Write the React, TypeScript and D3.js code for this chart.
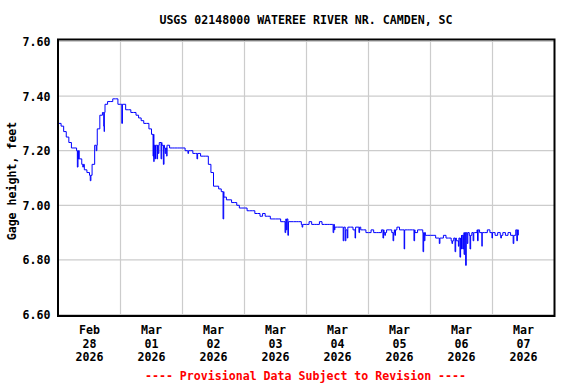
import { useEffect, useRef } from "react";
import * as d3 from "d3";

// hourly gage height readings starting Feb 28 2026 00:00
const gageHourly = [
  7.30, 7.29, 7.27, 7.25, 7.23, 7.21, 7.21, 7.20, 7.17, 7.15,
  7.13, 7.12, 7.11, 7.15, 7.22, 7.28, 7.33, 7.34, 7.37, 7.38,
  7.38, 7.39, 7.39, 7.37, 7.37, 7.37, 7.35, 7.35, 7.34, 7.34,
  7.33, 7.32, 7.31, 7.30, 7.30, 7.28, 7.26, 7.22, 7.22, 7.23,
  7.22, 7.21, 7.22, 7.21, 7.21, 7.21, 7.21, 7.21, 7.21, 7.20,
  7.20, 7.20, 7.19, 7.19, 7.19, 7.18, 7.18, 7.18, 7.15, 7.12,
  7.07, 7.07, 7.06, 7.05, 7.03, 7.02, 7.02, 7.01, 7.01, 7.00,
  6.99, 6.99, 6.99, 6.98, 6.98, 6.98, 6.97, 6.97, 6.96, 6.97,
  6.96, 6.96, 6.95, 6.95, 6.95, 6.95, 6.94, 6.94, 6.95, 6.94,
  6.94, 6.94, 6.94, 6.94, 6.93, 6.93, 6.93, 6.94, 6.93, 6.93,
  6.93, 6.94, 6.93, 6.93, 6.93, 6.93, 6.93, 6.92, 6.92, 6.92,
  6.92, 6.91, 6.92, 6.92, 6.91, 6.92, 6.92, 6.91, 6.91, 6.90,
  6.90, 6.91, 6.90, 6.90, 6.90, 6.91, 6.90, 6.91, 6.91, 6.90,
  6.91, 6.92, 6.91, 6.91, 6.91, 6.91, 6.91, 6.91, 6.90, 6.91,
  6.91, 6.90, 6.89, 6.89, 6.89, 6.89, 6.88, 6.88, 6.88, 6.89,
  6.88, 6.88, 6.87, 6.88, 6.87, 6.88, 6.89, 6.90, 6.90, 6.89,
  6.90, 6.90, 6.91, 6.90, 6.90, 6.90, 6.91, 6.90, 6.90, 6.89,
  6.90, 6.89, 6.90, 6.89, 6.90, 6.89, 6.89, 6.91, 6.89,
];

// short dips between hourly readings: [hours since start, value]
const spikes = [
  [7.3, 7.14], [7.6, 7.17], [9.4, 7.14], [12.3, 7.09], [14.6, 7.2],
  [17.5, 7.29], [17.7, 7.27], [24.5, 7.3], [36.6, 7.18], [36.9, 7.16],
  [37.3, 7.17], [38.1, 7.17], [38.6, 7.19], [39.7, 7.17], [40.6, 7.15],
  [41.3, 7.19], [41.9, 7.18], [50.1, 7.19], [53.6, 7.17], [63.7, 6.95],
  [87.7, 6.9], [88.2, 6.91], [88.8, 6.89], [94.3, 6.92], [106.3, 6.9],
  [106.8, 6.91], [110.2, 6.87], [111.0, 6.87], [111.8, 6.88], [114.8, 6.88],
  [116.3, 6.9], [125.6, 6.88], [126.3, 6.89], [129.5, 6.87], [130.2, 6.89],
  [133.8, 6.84], [137.6, 6.87], [141.1, 6.83], [141.6, 6.87], [147.4, 6.86],
  [152.3, 6.86], [153.5, 6.83], [154.8, 6.85], [155.4, 6.81], [156.0, 6.84],
  [156.6, 6.84], [157.0, 6.82], [157.6, 6.78], [158.2, 6.86], [159.3, 6.84],
  [160.5, 6.87], [162.2, 6.87], [163.9, 6.85], [167.8, 6.88], [171.2, 6.88],
  [176.0, 6.86], [177.4, 6.87],
];

const yTicks = [6.6, 6.8, 7.0, 7.2, 7.4, 7.6];
const tickMonths = ["Feb", "Mar", "Mar", "Mar", "Mar", "Mar", "Mar", "Mar"];
const tickDays = ["28", "01", "02", "03", "04", "05", "06", "07"];
const tickYears = ["2026", "2026", "2026", "2026", "2026", "2026", "2026", "2026"];

const title = "USGS 02148000 WATEREE RIVER NR. CAMDEN, SC";
const yLabel = "Gage height, feet";
const footer = "---- Provisional Data Subject to Revision ----";

const FONT = "'DejaVu Sans Mono', 'Liberation Mono', monospace";

function drawChart(element) {
  d3.select(element).selectAll("*").remove();

  const width = 576;
  const height = 384;
  const left = 58.5;
  const right = 554.5;
  const top = 41.5;
  const bottom = 314.5;

  const start = new Date(2026, 1, 28).getTime();
  const hourMs = 3600 * 1000;
  const t = (h) => new Date(start + h * hourMs);

  const x = d3
    .scaleTime()
    .domain([t(0), t(24 * 8)])
    .range([left, right]);
  const y = d3.scaleLinear().domain([6.6, 7.6]).range([bottom, top]);

  const svg = d3
    .select(element)
    .append("svg")
    .attr("width", width)
    .attr("height", height)
    .style("position", "absolute")
    .style("left", "0px")
    .style("top", "0px")
    .style("background", "#fff");

  // build the series: hourly readings plus the short dips
  const points = gageHourly.map((v, i) => ({ h: i, v }));
  spikes.forEach(([h, v]) => {
    points.push({ h, v });
    const back = Math.min(gageHourly.length - 1, Math.floor(h + 0.25));
    points.push({ h: h + 0.25, v: gageHourly[back] });
  });
  points.sort((a, b) => a.h - b.h);

  // grid
  const grid = svg.append("g").attr("stroke", "#cccccc").attr("stroke-width", 1.2);
  yTicks.forEach((v) => {
    grid
      .append("line")
      .attr("x1", left)
      .attr("x2", right)
      .attr("y1", y(v))
      .attr("y2", y(v));
  });
  d3.range(1, 8).forEach((d) => {
    grid
      .append("line")
      .attr("x1", x(t(d * 24)))
      .attr("x2", x(t(d * 24)))
      .attr("y1", 39.5)
      .attr("y2", 316);
  });

  // data line
  svg
    .append("path")
    .datum(points)
    .attr("fill", "none")
    .attr("stroke", "#0000ff")
    .attr("stroke-width", 1)
    .attr(
      "d",
      d3
        .line()
        .curve(d3.curveStepAfter)
        .x((d) => x(t(d.h)))
        .y((d) => y(d.v))
    );

  // frame
  svg
    .append("rect")
    .attr("x", 58)
    .attr("y", 39.5)
    .attr("width", right - 58)
    .attr("height", 316 - 39.5)
    .attr("fill", "none")
    .attr("stroke", "#000")
    .attr("stroke-width", 2);

  const text = svg
    .append("g")
    .attr("font-family", FONT)
    .attr("font-weight", "bold")
    .attr("font-size", 11.6)
    .attr("fill", "#000");

  text
    .append("text")
    .attr("x", 306)
    .attr("y", 24)
    .attr("text-anchor", "middle")
    .text(title);

  yTicks.forEach((v) => {
    text
      .append("text")
      .attr("x", 50.5)
      .attr("y", y(v) + 4.5)
      .attr("text-anchor", "end")
      .text(d3.format(".2f")(v));
  });

  text
    .append("text")
    .attr("transform", "translate(16,181) rotate(-90)")
    .attr("text-anchor", "middle")
    .text(yLabel);

  tickDays.forEach((day, i) => {
    const cx = x(t(i * 24 + 12));
    const label = text.append("text").attr("text-anchor", "middle");
    label.append("tspan").attr("x", cx).attr("y", 333.5).text(tickMonths[i]);
    label.append("tspan").attr("x", cx).attr("y", 347.5).text(day);
    label.append("tspan").attr("x", cx).attr("y", 360.5).text(tickYears[i]);
  });

  text
    .append("text")
    .attr("x", 305.5)
    .attr("y", 379.5)
    .attr("text-anchor", "middle")
    .attr("fill", "#ff0000")
    .text(footer);
}

export default function App() {
  const ref = useRef(null);
  useEffect(() => {
    document.body.style.margin = "0";
    drawChart(ref.current);
  }, []);
  return <div ref={ref} style={{ width: 576, height: 384 }} />;
}
